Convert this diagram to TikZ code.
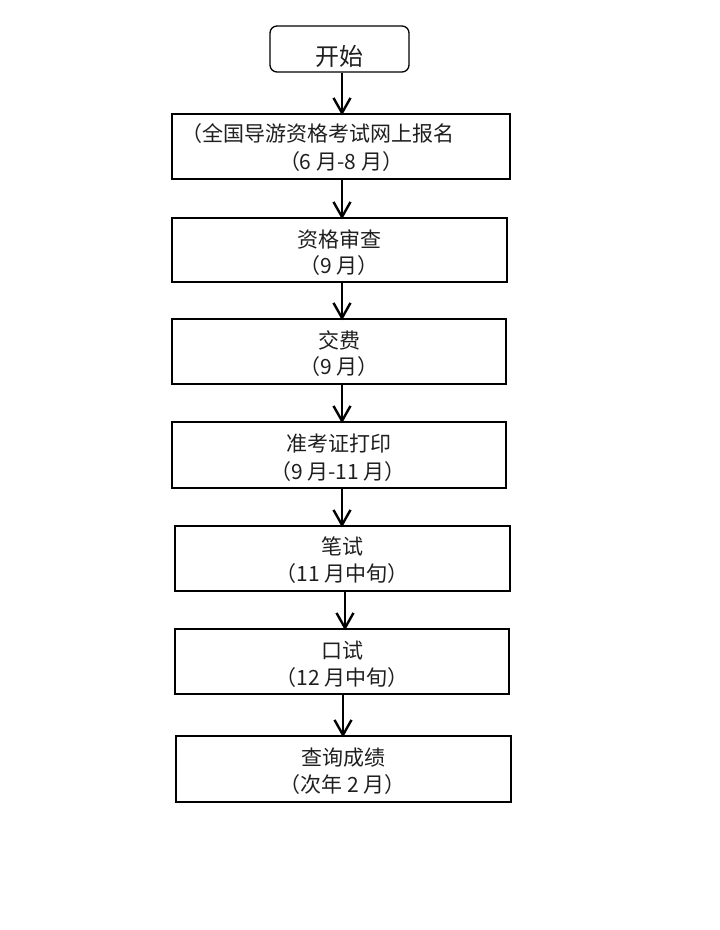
\documentclass[tikz,border=0pt]{standalone}
\usepackage{fontspec}
\setmainfont{Noto Sans CJK SC}
\usetikzlibrary{arrows.meta}
\begin{document}
\begin{tikzpicture}[x=1pt,y=-1pt,
  box/.style={draw, line width=1.3pt, inner sep=0pt},
  txt/.style={font=\fontsize{21}{21}\selectfont, inner sep=0pt, text=black!88},
  flow/.style={line width=2.4pt, shorten >=-2pt, -{Straight Barb[length=15pt,width=17pt,line width=2.4pt]}}]
\useasboundingbox (0,0) rectangle (720,930);
% boxes
\node[box, rounded corners=7pt, minimum width=139pt, minimum height=46pt] (s) at (339.5,49) {};
\node[box, minimum width=338pt, minimum height=65pt] (b1) at (341,146.5) {};
\node[box, minimum width=335pt, minimum height=64pt] (b2) at (339.5,250) {};
\node[box, minimum width=334pt, minimum height=65pt] (b3) at (339,351.5) {};
\node[box, minimum width=334pt, minimum height=66pt] (b4) at (339,455) {};
\node[box, minimum width=335pt, minimum height=65pt] (b5) at (342.5,558.5) {};
\node[box, minimum width=334pt, minimum height=65pt] (b6) at (342,661.5) {};
\node[box, minimum width=335pt, minimum height=66pt] (b7) at (343.5,769) {};
% texts
\node[txt, font=\fontsize{24}{24}\selectfont] (t0) at (339,56) {开始};
\node[txt] (t1a) at (318,133.5) {（全国导游资格考试网上报名};
\node[txt] (t1b) at (341,162) {（6 月-8 月）};
\node[txt] (t2a) at (339,239) {资格审查};
\node[txt] (t2b) at (339,265.5) {（9 月）};
\node[txt] (t3a) at (339,340.5) {交费};
\node[txt] (t3b) at (339,367) {（9 月）};
\node[txt] (t4a) at (339,444) {准考证打印};
\node[txt] (t4b) at (338,472) {（9 月-11 月）};
\node[txt] (t5a) at (342,546.5) {笔试};
\node[txt] (t5b) at (342,573.5) {（11 月中旬）};
\node[txt] (t6a) at (342.5,650.5) {口试};
\node[txt] (t6b) at (342,678) {（12 月中旬）};
\node[txt] (t7a) at (343,758) {查询成绩};
\node[txt] (t7b) at (342.5,785) {（次年 2 月）};
% arrow columns
\coordinate (xa) at (342,0);
\coordinate (xb) at (345,0);
\coordinate (xc) at (343,0);
\draw[flow] (s.south -| xa) -- (b1.north -| xa);
\draw[flow] (b1.south -| xa) -- (b2.north -| xa);
\draw[flow] (b2.south -| xa) -- (b3.north -| xa);
\draw[flow] (b3.south -| xa) -- (b4.north -| xa);
\draw[flow] (b4.south -| xa) -- (b5.north -| xa);
\draw[flow] (b5.south -| xb) -- (b6.north -| xb);
\draw[flow] (b6.south -| xc) -- (b7.north -| xc);
\end{tikzpicture}
\end{document}
